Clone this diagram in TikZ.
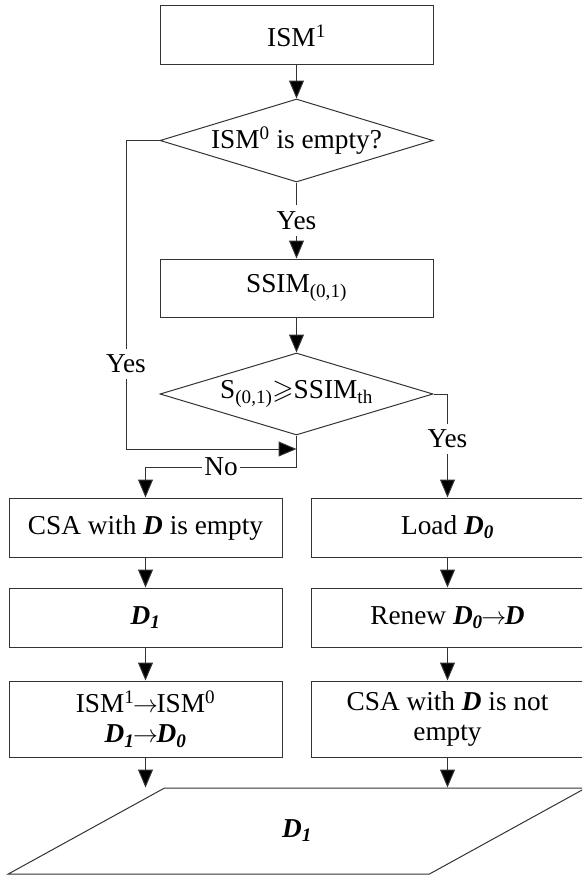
\documentclass[tikz,border=0pt]{standalone}
\usepackage{fontspec}
\setmainfont{Liberation Serif}
\usepackage{amssymb}
\usetikzlibrary{shapes.geometric,arrows.meta}
\definecolor{linecol}{HTML}{333333}
\newcommand{\bi}[1]{\textbf{\textit{#1}}}
\newcommand{\tto}{\mbox{$\mkern-1mu\rightarrow\mkern-1mu$}}

\begin{document}
\begin{tikzpicture}[x=1pt,y=-1pt,
  every node/.style={font=\fontsize{27.3}{30.5}\selectfont, text=black},
  box/.style={draw=linecol, line width=1pt, rectangle, minimum width=273pt,
    minimum height=59pt, inner sep=0pt, align=center},
  decision/.style={draw=linecol, line width=1pt, diamond, shape aspect=3.29,
    minimum width=273pt, minimum height=83pt, inner sep=0pt},
  link/.style={draw=linecol, line width=1pt},
  flow/.style={link, -{Triangle[length=18pt,width=15pt,fill=black]}},
  tag/.style={fill=white, inner xsep=2pt, inner ysep=6pt}]

\useasboundingbox (0,0) rectangle (582,875);
\clip (0,0) rectangle (582,875);

% main column
\node[box] (ism1) at (296.5,35.5) {ISM\textsuperscript{1}};
\node[decision] (q1) at (296.5,140.5) {ISM\textsuperscript{0} is empty?};
\node[box, minimum height=58pt] (ssim) at (296.5,288) {SSIM\textsubscript{(0,1)}};
\node[decision, minimum height=82pt] (q2) at (296.5,394)
  {S\textsubscript{(0,1)}$\geqslant$SSIM\textsubscript{th}};

% left branch
\node[box] (csa0) at (145.5,527.5) {CSA with \bi{D} is empty};
\node[box] (dd1) at (145.5,617.5) {\bi{D\textsubscript{1}}};
\node[box, minimum height=76pt] (swap) at (145.5,719)
  {ISM\textsuperscript{1}\tto ISM\textsuperscript{0}\\ \bi{D\textsubscript{1}}\tto\bi{D\textsubscript{0}}};

% right branch
\node[box] (load) at (447.5,527.5) {Load \bi{D\textsubscript{0}}};
\node[box] (renew) at (447.5,617.5) {Renew \bi{D\textsubscript{0}}\tto\bi{D}};
\node[box, minimum height=76pt] (csa1) at (447.5,719) {CSA with \bi{D} is not\\ empty};

% output
\node[draw=linecol, line width=1pt, trapezium, trapezium left angle=51.3,
  trapezium right angle=128.7, trapezium stretches=true,
  minimum width=578pt, minimum height=86pt, inner sep=0pt] (out) at (297,831)
  {\bi{D\textsubscript{1}}};

% connectors
\draw[flow] (ism1.south) -- (q1.north);
\draw[flow] (q1.south) -- node[tag]{Yes} (ssim.north);
\draw[flow] (ssim.south) -- (q2.north);

\coordinate (lc) at (126,449);
\draw[flow] (q1.west) -| node[tag,pos=0.862]{Yes} (lc) -- (lc -| q2.south);

\coordinate (nb) at (145.5,467);
\draw[flow] (q2.south) |- node[tag,pos=0.75]{No} (nb) -- (csa0.north);

\draw[flow] (q2.east) -| node[tag,pos=0.716]{Yes} (load.north);

\draw[flow] (csa0.south) -- (dd1.north);
\draw[flow] (dd1.south) -- (swap.north);
\draw[flow] (swap.south) -- (swap.south |- out.north);

\draw[flow] (load.south) -- (renew.north);
\draw[flow] (renew.south) -- (csa1.north);
\draw[flow] (csa1.south) -- (csa1.south |- out.north);
\end{tikzpicture}
\end{document}
